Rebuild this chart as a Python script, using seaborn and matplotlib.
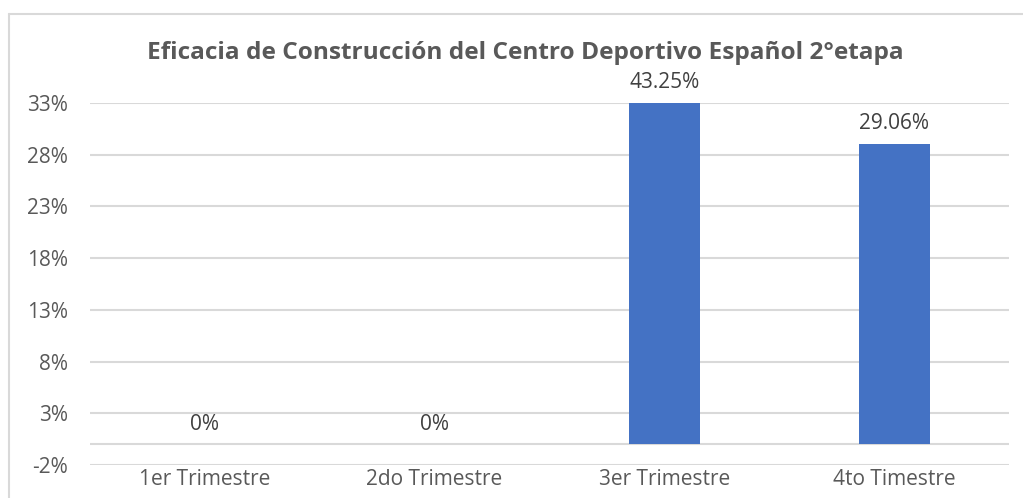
import matplotlib
matplotlib.use("Agg")
import matplotlib.pyplot as plt
import seaborn as sns
import pandas as pd
from matplotlib.lines import Line2D

# Data (percent)
categories = ['1er Trimestre', '2do Trimestre', '3er Trimestre', '4to Timestre']
values = [0, 0, 43.25, 29.06]
value_labels = ['0%', '0%', '43.25%', '29.06%']
y_ticks = [-2, 3, 8, 13, 18, 23, 28, 33]
title = 'Eficacia de Construcción del Centro Deportivo Español 2°etapa'

df = pd.DataFrame({'trimestre': categories, 'eficacia': values})

sns.set_style('white')
plt.rcParams['font.family'] = ['Open Sans', 'DejaVu Sans']

grid_color = '#D9D9D9'
text_color = '#595959'

fig = plt.figure(figsize=(10.23, 4.98), dpi=100)
ax = fig.add_axes([90 / 1023, 1 - 465 / 498, (1009 - 90) / 1023, (465 - 103) / 498])

sns.barplot(data=df, x='trimestre', y='eficacia', color='#4472C4', width=0.31,
            saturation=1, linewidth=0, ax=ax, zorder=3)

ax.set_ylim(y_ticks[0], y_ticks[-1])
ax.set_yticks(y_ticks)
ax.set_yticklabels([f'{t}%' for t in y_ticks])
ax.set_xlim(-0.5, len(categories) - 0.5)
ax.set_xlabel('')
ax.set_ylabel('')

for t in y_ticks:
    ax.axhline(t, color=grid_color, lw=1.5, zorder=1)
ax.axhline(0, color=grid_color, lw=1.5, zorder=1)

for s in ax.spines.values():
    s.set_visible(False)

ax.tick_params(axis='y', length=0, pad=16, labelsize=15, labelcolor=text_color)
ax.tick_params(axis='x', length=0, pad=3, labelsize=15, labelcolor=text_color)

# data labels, bars taller than the axis are clipped at the top
ymax = y_ticks[-1]
for i, (v, lab) in enumerate(zip(values, value_labels)):
    ax.annotate(lab, (i, min(v, ymax)), xytext=(0, 14.5), textcoords='offset points',
                ha='center', va='center', fontsize=15, color='#404040',
                annotation_clip=False)

fig.text(525 / 1023, 1 - 53 / 498, title, ha='center', va='center',
         fontsize=17.6, fontweight='bold', color=text_color)

# chart area border (only top and left visible in the crop)
fig.add_artist(Line2D([9 / 1023, 9 / 1023], [0, 1 - 14 / 498], color=grid_color,
                      lw=1.5, transform=fig.transFigure))
fig.add_artist(Line2D([9 / 1023, 1], [1 - 14 / 498, 1 - 14 / 498], color=grid_color,
                      lw=1.5, transform=fig.transFigure))

fig.savefig('out.png', dpi=100)
